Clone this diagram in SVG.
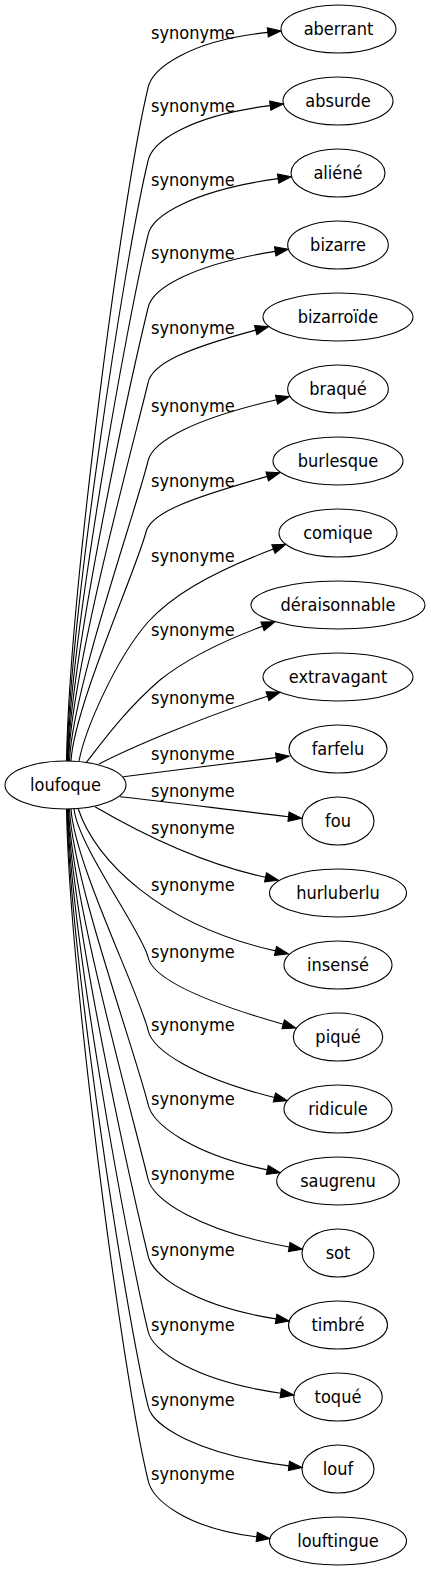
<svg xmlns="http://www.w3.org/2000/svg" width="431" height="1571" viewBox="0 0 431 1571">
<style>
.n ellipse{fill:none;stroke:#000;stroke-width:1.1}
text{font-family:"DejaVu Sans Condensed","DejaVu Sans",sans-serif;font-stretch:condensed;font-size:18px;fill:#000}
.n text{text-anchor:middle}
.e path{fill:none;stroke:#000;stroke-width:1.1;marker-end:url(#arr)}
.lbl text{text-anchor:start}
</style>
<defs>
<marker id="arr" markerUnits="userSpaceOnUse" markerWidth="15" markerHeight="11" viewBox="0 -5.5 15 11" refX="0" refY="0" orient="auto" overflow="visible">
<path d="M0,-4.67 L13.3,0 L0,4.67 z" fill="#000" stroke="#000" stroke-width="1"/>
</marker>
</defs>
<rect width="431" height="1571" fill="#fff"/>
<g class="e" id="edges">
<path d="M66.5,761 C69.5,599.5 121.1,199.7 148,88 C152,68 190.3,40.5 267.8,32.4"/>
<path d="M67,761 C70,617 124,260.6 148,161 C152,141 191.4,115.3 270.2,105.6"/>
<path d="M67.5,761 C70.5,634.8 127,322.3 148,235 C152,215 194.3,190.4 278.1,178.6"/>
<path d="M68,761 C71,652.3 129.9,383.2 148,308 C152,288 193.5,264.3 275.2,251.4"/>
<path d="M68.5,761 C71.5,670.3 132.9,445.7 148,383 C152,363 188.1,348.2 255.7,330.1"/>
<path d="M69.5,761 C72.5,689 136,510.8 148,461 C152,441 195.1,418.5 276.5,399.7"/>
<path d="M71,761 C74,707 137,568 146,532 C151,512 192.7,497.8 267.2,476.4"/>
<path d="M79,761 C85,730 115,660 148,622 C170,598 205,575 273.4,549.1"/>
<path d="M86,763 C100,745 125,710 160,680 C185,660 215,644 262.5,626.3"/>
<path d="M99,764 C130,748 200,718 267.5,696.2"/>
<path d="M123.3,776.7 C170,771 230,763 276.1,757.6"/>
<path d="M120,796.7 C170,802 230,810 288.5,816.7"/>
<path d="M95,806.7 C140,833 200,863 265.5,877.3"/>
<path d="M78.3,809 C95,860 160,925 275.5,950.9"/>
<path d="M74,808.5 C77,844.1 142.1,932.3 148,957 C152,977 198.7,1000.1 283.2,1024.3"/>
<path d="M71,808.7 C74,861.8 139.1,993.3 148,1030 C152,1050 194.6,1077.6 274.4,1097.5"/>
<path d="M69.5,809 C72.5,879.8 136.2,1055 148,1104 C152,1124 191.5,1153.8 267.3,1169.9"/>
<path d="M68.5,809 C71.5,897.8 133.2,1117.6 148,1179 C152,1199 198.8,1231.1 289.2,1247"/>
<path d="M68,809 C71,916.2 130.1,1181.4 148,1255.5 C152,1275.5 193.8,1305.9 276.1,1318.9"/>
<path d="M67.5,809 C70.5,934.3 127.1,1244.3 148,1331 C152,1351 195.2,1381.2 280.7,1393.2"/>
<path d="M67,809 C70,952.3 124.1,1306.9 148,1406 C152,1426 198,1454.7 288.9,1465.9"/>
<path d="M66.5,809 C69.5,970 121.2,1368.6 148,1480 C152,1500 186.5,1528.3 256.7,1536.9"/>
</g>
<g class="lbl" id="edge-labels">
<text x="151" y="38.5">synonyme</text>
<text x="151" y="111.5">synonyme</text>
<text x="151" y="185.5">synonyme</text>
<text x="151" y="258.5">synonyme</text>
<text x="151" y="333.5">synonyme</text>
<text x="151" y="411.5">synonyme</text>
<text x="151" y="486.5">synonyme</text>
<text x="151" y="561.5">synonyme</text>
<text x="151" y="635.5">synonyme</text>
<text x="151" y="703.5">synonyme</text>
<text x="151" y="759.5">synonyme</text>
<text x="151" y="796.5">synonyme</text>
<text x="151" y="833.5">synonyme</text>
<text x="151" y="890.5">synonyme</text>
<text x="151" y="957.5">synonyme</text>
<text x="151" y="1030.5">synonyme</text>
<text x="151" y="1104.5">synonyme</text>
<text x="151" y="1179.5">synonyme</text>
<text x="151" y="1255.5">synonyme</text>
<text x="151" y="1330.5">synonyme</text>
<text x="151" y="1405.5">synonyme</text>
<text x="151" y="1479.5">synonyme</text>
</g>
<g class="n" id="loufoque"><ellipse cx="65.5" cy="785" rx="60.5" ry="24"/><text x="65.5" y="791">loufoque</text></g>
<g class="n" id="aberrant"><ellipse cx="338.5" cy="29" rx="57.5" ry="24"/><text x="338.5" y="35">aberrant</text></g>
<g class="n" id="absurde"><ellipse cx="338" cy="101" rx="55" ry="24"/><text x="338" y="107">absurde</text></g>
<g class="n" id="aliene"><ellipse cx="338" cy="173" rx="47" ry="24"/><text x="338" y="179">aliéné</text></g>
<g class="n" id="bizarre"><ellipse cx="338" cy="245" rx="50.3" ry="24"/><text x="338" y="251">bizarre</text></g>
<g class="n" id="bizarroide"><ellipse cx="338" cy="317" rx="75" ry="24"/><text x="338" y="323">bizarroïde</text></g>
<g class="n" id="braque"><ellipse cx="338" cy="389" rx="50.3" ry="24"/><text x="338" y="395">braqué</text></g>
<g class="n" id="burlesque"><ellipse cx="338" cy="461" rx="65" ry="24"/><text x="338" y="467">burlesque</text></g>
<g class="n" id="comique"><ellipse cx="338" cy="533" rx="59" ry="24"/><text x="338" y="539">comique</text></g>
<g class="n" id="deraisonnable"><ellipse cx="338" cy="605" rx="87" ry="24"/><text x="338" y="611">déraisonnable</text></g>
<g class="n" id="extravagant"><ellipse cx="338" cy="677" rx="75" ry="24"/><text x="338" y="683">extravagant</text></g>
<g class="n" id="farfelu"><ellipse cx="338" cy="749" rx="49" ry="24"/><text x="338" y="755">farfelu</text></g>
<g class="n" id="fou"><ellipse cx="338" cy="821" rx="36" ry="24"/><text x="338" y="827">fou</text></g>
<g class="n" id="hurluberlu"><ellipse cx="338" cy="893" rx="68.5" ry="24"/><text x="338" y="899">hurluberlu</text></g>
<g class="n" id="insense"><ellipse cx="338" cy="965" rx="54" ry="24"/><text x="338" y="971">insensé</text></g>
<g class="n" id="pique"><ellipse cx="338" cy="1037" rx="44.7" ry="24"/><text x="338" y="1043">piqué</text></g>
<g class="n" id="ridicule"><ellipse cx="338" cy="1109" rx="54" ry="24"/><text x="338" y="1115">ridicule</text></g>
<g class="n" id="saugrenu"><ellipse cx="338" cy="1181" rx="61.3" ry="24"/><text x="338" y="1187">saugrenu</text></g>
<g class="n" id="sot"><ellipse cx="338" cy="1253" rx="36" ry="24"/><text x="338" y="1259">sot</text></g>
<g class="n" id="timbre"><ellipse cx="338" cy="1325" rx="49.5" ry="24"/><text x="338" y="1331">timbré</text></g>
<g class="n" id="toque"><ellipse cx="338" cy="1397" rx="44.3" ry="24"/><text x="338" y="1403">toqué</text></g>
<g class="n" id="louf"><ellipse cx="338" cy="1469" rx="36" ry="24"/><text x="338" y="1475">louf</text></g>
<g class="n" id="louftingue"><ellipse cx="338" cy="1541" rx="68.5" ry="24"/><text x="338" y="1547">louftingue</text></g>
</svg>
